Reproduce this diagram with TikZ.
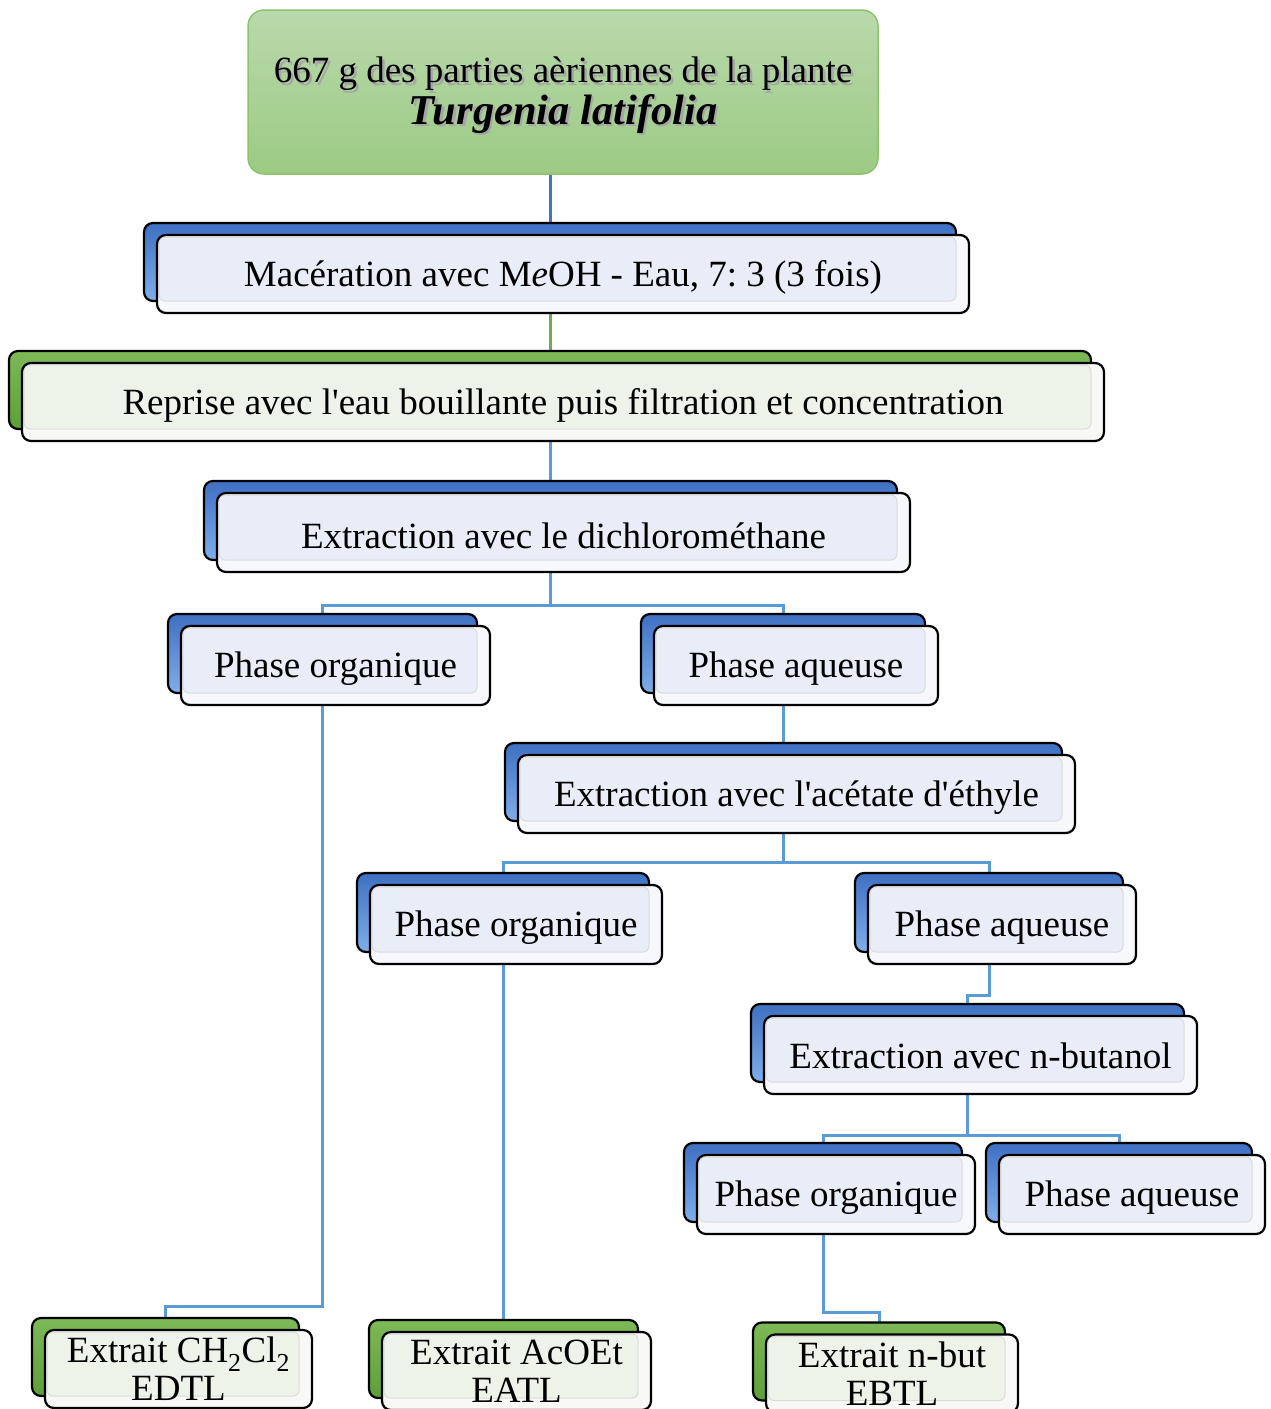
\documentclass[tikz,border=0pt]{standalone}
\usepackage{fontspec}
\setmainfont{Liberation Serif}[Ligatures=TeXOff]
\usetikzlibrary{calc,backgrounds}
\definecolor{topA}{HTML}{B9D9AB}
\definecolor{topB}{HTML}{9CCA84}
\definecolor{topLine}{HTML}{8DC26F}
\definecolor{blueA}{HTML}{3F70C2}
\definecolor{blueB}{HTML}{7FAEEA}
\definecolor{greenA}{HTML}{7DB957}
\definecolor{greenB}{HTML}{5E9E38}
\definecolor{blueFace}{HTML}{E8EDF7}
\definecolor{blueOut}{HTML}{F7F8FB}
\definecolor{greenFace}{HTML}{EDF3E8}
\definecolor{greenOut}{HTML}{F8F9F7}
\definecolor{connBlue}{HTML}{5B9BD5}
\definecolor{connDark}{HTML}{4472C4}
\definecolor{connGreen}{HTML}{70AD47}
\newcommand\shadowed[1]{\leavevmode\rlap{\color{black!35}\hspace*{2.5pt}\raisebox{-2.5pt}{#1}}#1}
\newcommand\low[2][3pt]{\raisebox{-#1}[\height][\depth]{#2}}
\newcommand\DBox[7]{%
  \node[#6back, minimum width=#4, minimum height=#5] (#1-b) at ({#2-13},{#3-12}) {};
  \node[#6front, minimum width=#4, minimum height=#5] (#1) at (#2,#3) {#7};
}
\tikzset{
  every node/.style={font=\fontsize{37}{38}\selectfont\frenchspacing, inner sep=0pt, outer sep=0pt},
  boxbase/.style={draw=black, line width=2.2pt, rounded corners=9pt, align=center},
  bback/.style={boxbase, top color=blueA, bottom color=blueB},
  gback/.style={boxbase, top color=greenA, bottom color=greenB},
  face/.style={
    path picture={\fill[#1, draw=black!14, line width=1pt, rounded corners=6pt]
      ([shift={(2pt,-2pt)}]path picture bounding box.north west) rectangle
      ([shift={(-13pt,12pt)}]path picture bounding box.south east);}},
  bfront/.style={boxbase, fill=blueOut, face=blueFace},
  gfront/.style={boxbase, fill=greenOut, face=greenFace},
  topbox/.style={draw=topLine, line width=1.5pt, rounded corners=16pt,
    top color=topA, bottom color=topB, align=center},
  conn/.style={draw=connBlue, line width=3pt},
}
\begin{document}
\begin{tikzpicture}[x=1pt,y=-1pt]
\useasboundingbox (0,0) rectangle (1270,1409);

\node[topbox, minimum width=630, minimum height=164] (top) at (563,92)
  {\low[4pt]{\begin{tabular}{@{}c@{}}\shadowed{667 g des parties aèriennes de la plante}\\[0pt]
   {\fontsize{42.5}{43}\selectfont\bfseries\itshape\shadowed{Turgenia latifolia}}\end{tabular}}};

\DBox{mac}{563}{274}{812}{78}{b}{\low{Macération avec M\textit{e}OH - Eau, 7: 3 (3 fois)}}
\DBox{rep}{563}{402}{1082}{78}{g}{\low{Reprise avec l'eau bouillante puis filtration et concentration}}
\DBox{dcm}{563.5}{532.5}{693}{79}{b}{\low{Extraction avec le dichlorométhane}}
\DBox{po1}{335.5}{665.5}{309}{79}{b}{\low[3.5pt]{Phase organique}}
\DBox{pa1}{796}{665.5}{284}{79}{b}{\low[3.5pt]{Phase aqueuse}}
\DBox{ace}{796.5}{794}{557}{78}{b}{\low[3.5pt]{Extraction avec l'acétate d'éthyle}}
\DBox{po2}{516}{924.5}{292}{79}{b}{\low[3.5pt]{Phase organique}}
\DBox{pa2}{1002}{924.5}{268}{79}{b}{\low[3.5pt]{Phase aqueuse}}
\DBox{but}{980.5}{1055}{433}{78}{b}{\low[1pt]{Extraction avec n-butanol}}
\DBox{po3}{836}{1194.5}{278}{79}{b}{\low[3.5pt]{Phase organique}}
\DBox{pa3}{1132}{1194.5}{266}{79}{b}{\low[3.5pt]{Phase aqueuse}}
\DBox{ex1}{178.5}{1369}{267}{78}{g}{Extrait CH\textsubscript{2}Cl\textsubscript{2}\\EDTL}
\DBox{ex2}{516.5}{1371}{269}{78}{g}{Extrait AcOEt\\EATL}
\DBox{ex3}{892}{1373.5}{252}{78}{g}{Extrait n-but\\EBTL}

\coordinate (j1) at (0,605);
\coordinate (j2) at (0,1306);
\coordinate (j3) at (0,862);
\coordinate (j4) at (0,995);
\coordinate (j5) at (0,1135);
\coordinate (j6) at (0,1312);

\begin{scope}[on background layer]
  \draw[conn, draw=connDark] (top.south -| mac-b.north) -- (mac-b.north);
  \draw[conn, draw=connGreen] (mac.south -| rep-b.north) -- (rep-b.north);
  \draw[conn] (rep.south -| dcm-b.north) -- (dcm-b.north);
  \draw[conn] (dcm-b.south) -- (dcm-b.south |- j1) -| (po1-b.north);
  \draw[conn] (dcm-b.south |- j1) -| (pa1-b.north);
  \draw[conn] (po1-b.south) -- (po1-b.south |- j2) -| (ex1-b.north);
  \draw[conn] (pa1-b.south) |- (ace-b.north);
  \draw[conn] (ace-b.south) -- (ace-b.south |- j3) -| (po2-b.north);
  \draw[conn] (ace-b.south |- j3) -| (pa2-b.north);
  \draw[conn] (po2-b.south) |- (ex2-b.north);
  \draw[conn] (pa2-b.south) -- (pa2-b.south |- j4) -| (but-b.north);
  \draw[conn] (but-b.south) -- (but-b.south |- j5) -| (po3-b.north);
  \draw[conn] (but-b.south |- j5) -| (pa3-b.north);
  \draw[conn] (po3-b.south) -- (po3-b.south |- j6) -| (ex3-b.north);
\end{scope}
\end{tikzpicture}
\end{document}
